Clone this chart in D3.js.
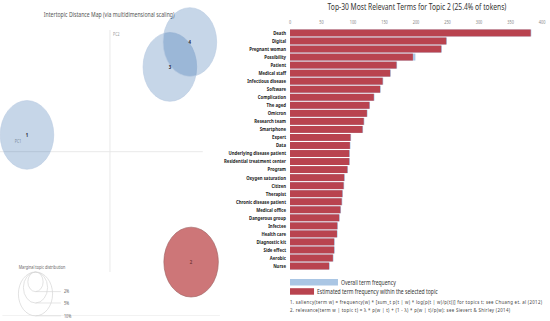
<!DOCTYPE html>
<html lang="en">
<head>
<meta charset="utf-8">
<title>LDAvis topic 2</title>
<script src="https://cdn.jsdelivr.net/npm/d3@7"></script>
<style>
  html, body { margin: 0; padding: 0; background: #fff; overflow: hidden; }
  text { font-family: "Noto Sans", "DejaVu Sans", sans-serif; }
</style>
</head>
<body>
<div id="chart"></div>
<script>
// ---- data ----
var topicIds = [1, 2, 3, 4];
var topicPC1 = [-0.266, 0.260, 0.192, 0.256];
var topicPC2 = [0.042, -0.276, 0.212, 0.274];
var topicPct = [24.5, 25.4, 24.6, 24.6];
var selectedTopic = 2;

var terms = ["Death", "Digital", "Pregnant woman", "Possibility", "Patient", "Medical staff",
  "Infectious disease", "Software", "Complication", "The aged", "Omicron", "Research team",
  "Smartphone", "Expert", "Data", "Underlying disease patient", "Residential treatment center",
  "Program", "Oxygen saturation", "Citizen", "Therapist", "Chronic disease patient",
  "Medical office", "Dangerous group", "Infectee", "Health care", "Diagnostic kit",
  "Side effect", "Aerobic", "Nurse"];
var estFreq = [382, 248, 240, 195, 169, 159, 147, 143, 133, 126, 122, 117, 115, 96, 95, 94, 94,
  91, 86, 85, 83, 82, 80, 78, 75, 74.5, 70, 70, 68, 62];
var overallFreq = [383, 249, 241, 199, 170, 160, 148, 144, 134, 127, 123, 118, 116, 97, 96, 95, 95,
  92, 87, 86, 84, 83, 81, 79, 76, 75.5, 71, 71, 69, 63];
var freqTicks = [0, 50, 100, 150, 200, 250, 300, 350, 400];
var marginalPcts = [2, 5, 10];

// picture is squeezed horizontally; draw in virtual units then scale x
var K = 0.78;
var W = 550, H = 321;

var svg = d3.select("#chart").append("svg")
  .attr("width", W).attr("height", H);
var g = svg.append("g").attr("transform", "scale(" + K + ",1)");

//////////////////////////////////////////////////////////////////
// left: intertopic distance map
//////////////////////////////////////////////////////////////////
var xMap = d3.scaleLinear().domain([-0.3, 0.3]).range([21, 261]);
var yMap = d3.scaleLinear().domain([-0.3, 0.3]).range([271.7, 31.7]);
var rMap = d3.scaleSqrt().domain([0, 5]).range([0, 15.5]);

g.append("text")
  .attr("x", 140).attr("y", 17)
  .attr("text-anchor", "middle")
  .attr("font-size", 6.6).attr("fill", "#555")
  .text("Intertopic Distance Map (via multidimensional scaling)");

g.append("line")
  .attr("x1", xMap(0)).attr("x2", xMap(0))
  .attr("y1", 30).attr("y2", 272)
  .attr("stroke", "#e6e6e6").attr("stroke-width", 1);
g.append("line")
  .attr("x1", 0).attr("x2", 260)
  .attr("y1", yMap(0)).attr("y2", yMap(0))
  .attr("stroke", "#e6e6e6").attr("stroke-width", 1);
g.append("line")
  .attr("x1", 3).attr("x2", 282)
  .attr("y1", 315.5).attr("y2", 315.5)
  .attr("stroke", "#f0f0f0").attr("stroke-width", 1);

g.append("text").attr("x", xMap(0) + 4).attr("y", 36)
  .attr("font-size", 4.5).attr("fill", "#999").text("PC2");
g.append("text").attr("x", 19).attr("y", yMap(0) - 9)
  .attr("font-size", 4.5).attr("fill", "#999").text("PC1");

var topics = topicIds.map(function(id, i) {
  return { id: id, x: topicPC1[i], y: topicPC2[i], pct: topicPct[i] };
});

g.selectAll("circle.topic")
  .data(topics)
  .enter().append("circle")
  .attr("class", "topic")
  .attr("cx", function(d) { return xMap(d.x); })
  .attr("cy", function(d) { return yMap(d.y); })
  .attr("r", function(d) { return rMap(d.pct); })
  .attr("fill", function(d) { return d.id == selectedTopic ? "#cd7678" : "#1b5ba3"; })
  .attr("fill-opacity", function(d) { return d.id == selectedTopic ? 1 : 0.25; })
  .attr("stroke", function(d) { return d.id == selectedTopic ? "#9e6262" : "#b9cbe2"; })
  .attr("stroke-width", 0.7);

g.selectAll("text.topicLabel")
  .data(topics)
  .enter().append("text")
  .attr("class", "topicLabel")
  .attr("x", function(d) { return xMap(d.x); })
  .attr("y", function(d) { return yMap(d.y) + 2; })
  .attr("text-anchor", "middle")
  .attr("font-size", 5.5).attr("font-weight", "bold")
  .attr("fill", function(d) { return d.id == selectedTopic ? "#7a3a3a" : "#223"; })
  .text(function(d) { return d.id; });

// marginal topic distribution legend
var mx = 45.5, mTop = 272;
g.append("text").attr("x", 24).attr("y", 269)
  .attr("font-size", 4.8).attr("fill", "#666")
  .text("Marginal topic distribution");

g.selectAll("circle.marg")
  .data(marginalPcts)
  .enter().append("circle")
  .attr("class", "marg")
  .attr("cx", mx)
  .attr("cy", function(d) { return mTop + rMap(d); })
  .attr("r", function(d) { return rMap(d); })
  .attr("fill", "none").attr("stroke", "#d6d6d6").attr("stroke-width", 0.8);

g.selectAll("line.marg")
  .data(marginalPcts)
  .enter().append("line")
  .attr("class", "marg")
  .attr("x1", mx).attr("x2", 78)
  .attr("y1", function(d) { return mTop + 2 * rMap(d); })
  .attr("y2", function(d) { return mTop + 2 * rMap(d); })
  .attr("stroke", "#d6d6d6").attr("stroke-width", 0.7);

g.selectAll("text.marg")
  .data(marginalPcts)
  .enter().append("text")
  .attr("class", "marg")
  .attr("x", 82)
  .attr("y", function(d) { return mTop + 2 * rMap(d) + 1.8; })
  .attr("font-size", 4.8).attr("fill", "#666")
  .text(function(d) { return d + "%"; });

//////////////////////////////////////////////////////////////////
// right: top-30 terms bar chart
//////////////////////////////////////////////////////////////////
var xBar = d3.scaleLinear().domain([0, 400]).range([371.8, 694.9]);
var yBar = d3.scaleBand().domain(terms).range([29.5, 269.5]).paddingInner(0.14);

g.append("text")
  .attr("x", 534.6).attr("y", 10.5)
  .attr("text-anchor", "middle")
  .attr("font-size", 8.6).attr("fill", "#333")
  .text("Top-30 Most Relevant Terms for Topic 2 (25.4% of tokens)");

g.selectAll("text.tick")
  .data(freqTicks)
  .enter().append("text")
  .attr("class", "tick")
  .attr("x", function(d) { return xBar(d); })
  .attr("y", 24)
  .attr("text-anchor", "middle")
  .attr("font-size", 5).attr("fill", "#888")
  .text(function(d) { return d; });

var rows = terms.map(function(t, i) {
  return { term: t, est: estFreq[i], overall: overallFreq[i] };
});

g.selectAll("rect.overall")
  .data(rows)
  .enter().append("rect")
  .attr("class", "overall")
  .attr("x", xBar(0))
  .attr("y", function(d) { return yBar(d.term); })
  .attr("width", function(d) { return xBar(d.overall) - xBar(0); })
  .attr("height", yBar.bandwidth())
  .attr("fill", "#aac6e4");

g.selectAll("rect.est")
  .data(rows)
  .enter().append("rect")
  .attr("class", "est")
  .attr("x", xBar(0))
  .attr("y", function(d) { return yBar(d.term); })
  .attr("width", function(d) { return xBar(d.est) - xBar(0); })
  .attr("height", yBar.bandwidth())
  .attr("fill", "#b9434f");

g.selectAll("text.term")
  .data(rows)
  .enter().append("text")
  .attr("class", "term")
  .attr("x", 366.7)
  .attr("y", function(d) { return yBar(d.term) + yBar.bandwidth() / 2 + 1.9; })
  .attr("text-anchor", "end")
  .attr("font-size", 5.5).attr("font-weight", "bold").attr("fill", "#222")
  .text(function(d) { return d.term; });

// legend
g.append("rect").attr("x", xBar(0)).attr("y", 279)
  .attr("width", 61.5).attr("height", 6.5).attr("fill", "#aac6e4");
g.append("text").attr("x", 437.2).attr("y", 284.6)
  .attr("font-size", 6.5).attr("fill", "#333").text("Overall term frequency");
g.append("rect").attr("x", xBar(0)).attr("y", 288.2)
  .attr("width", 30.8).attr("height", 6.5).attr("fill", "#b9434f");
g.append("text").attr("x", 406.4).attr("y", 293.8)
  .attr("font-size", 6.5).attr("fill", "#333").text("Estimated term frequency within the selected topic");

g.append("text").attr("x", xBar(0)).attr("y", 303.6)
  .attr("font-size", 5.6).attr("letter-spacing", 0.4).attr("fill", "#444")
  .text("1. saliency(term w) = frequency(w) * [sum_t p(t | w) * log(p(t | w)/p(t))] for topics t; see Chuang et. al (2012)");
g.append("text").attr("x", xBar(0)).attr("y", 311.6)
  .attr("font-size", 5.6).attr("letter-spacing", 0.4).attr("fill", "#444")
  .text("2. relevance(term w | topic t) = \u03bb * p(w | t) + (1 - \u03bb) * p(w | t)/p(w); see Sievert & Shirley (2014)");
</script>
</body>
</html>
